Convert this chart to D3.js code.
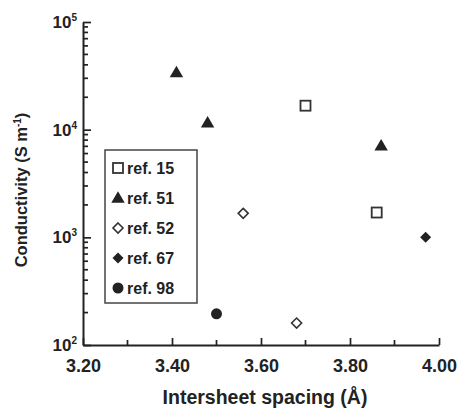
<!DOCTYPE html>
<html lang="en">
<head>
    <meta charset="UTF-8">
    <script src="https://cdn.jsdelivr.net/npm/d3@7"></script>
    <style>
        * { margin: 0; padding: 0; }
        body { background: #fff; font-family: "Liberation Sans", Arial, sans-serif; }
        svg { display: block; }
    </style>
</head>
<body>
<div id="chart"></div>
<script>
    // data
    var refs = ["ref. 15", "ref. 51", "ref. 52", "ref. 67", "ref. 98"];
    var symbolsOf = ["openSquare", "triangle", "openDiamond", "diamond", "circle"];
    var xs15 = [3.70, 3.86], ys15 = [16700, 1700];
    var xs51 = [3.41, 3.48, 3.87], ys51 = [34000, 11600, 7100];
    var xs52 = [3.56, 3.68], ys52 = [1670, 160];
    var xs67 = [3.97], ys67 = [1000];
    var xs98 = [3.50], ys98 = [195];
    var xTicks = [3.2, 3.4, 3.6, 3.8, 4.0];
    var yTicks = [1e2, 1e3, 1e4, 1e5];

    var w = 460, h = 408;
    var ink = "#222";

    var svg = d3.select("#chart").append("svg")
        .attr("width", w).attr("height", h);

    var xScale = d3.scaleLinear().domain([3.2, 4.0]).range([83, 439]);
    var yScale = d3.scaleLog().domain([1e2, 1e5]).range([345, 22]);

    // minor ticks
    var xMinor = d3.range(3.3, 4.0, 0.2);
    var yMinor = [];
    [1e2, 1e3, 1e4].forEach(function(d) {
        for (var k = 2; k <= 9; k++) yMinor.push(d * k);
    });

    // x axis
    var xAxis = d3.axisBottom(xScale).tickValues(xTicks)
        .tickFormat(d3.format(".2f")).tickSizeInner(-7).tickSizeOuter(0).tickPadding(14);
    var gx = svg.append("g").attr("transform", "translate(0,345)").call(xAxis);
    gx.attr("font-size", null).attr("font-family", null);
    gx.selectAll("text").attr("font-size", "18px").attr("font-weight", "bold").attr("fill", ink);
    gx.append("g").selectAll("line").data(xMinor).enter().append("line")
        .attr("x1", function(d) { return xScale(d); })
        .attr("x2", function(d) { return xScale(d); })
        .attr("y1", 0).attr("y2", -5);

    // y axis
    var yAxis = d3.axisLeft(yScale).tickValues(yTicks)
        .tickFormat("").tickSizeInner(-8).tickSizeOuter(0);
    var gy = svg.append("g").attr("transform", "translate(83,0)").call(yAxis);
    gy.append("g").selectAll("line").data(yMinor).enter().append("line")
        .attr("y1", function(d) { return yScale(d); })
        .attr("y2", function(d) { return yScale(d); })
        .attr("x1", 0).attr("x2", 5);

    svg.selectAll(".domain, .tick line").attr("stroke", ink).attr("stroke-width", 2);
    svg.selectAll("g g line").attr("stroke", ink).attr("stroke-width", 1.7);

    // y tick labels as 10 with exponent
    var ylab = svg.append("g").selectAll("text").data(yTicks).enter().append("text")
        .attr("x", 77)
        .attr("y", function(d) { return yScale(d) + 6; })
        .attr("text-anchor", "end")
        .attr("font-size", "17px").attr("font-weight", "bold").attr("fill", ink);
    ylab.append("tspan").text("10");
    ylab.append("tspan").attr("dy", -7).attr("font-size", "10px")
        .text(function(d) { return Math.round(Math.log10(d)); });

    // axis titles
    svg.append("text")
        .attr("x", 265).attr("y", 404)
        .attr("text-anchor", "middle")
        .attr("font-size", "19.5px").attr("font-weight", "bold").attr("fill", ink)
        .text("Intersheet spacing (Å)");

    var yt = svg.append("text")
        .attr("transform", "translate(27,190) rotate(-90)")
        .attr("text-anchor", "middle")
        .attr("font-size", "16.5px").attr("font-weight", "bold").attr("fill", ink);
    yt.append("tspan").text("Conductivity (S m");
    yt.append("tspan").attr("dy", -6).attr("font-size", "10px").text("-1");
    yt.append("tspan").attr("dy", 6).text(")");

    // marker drawing
    function drawSymbol(g, kind, x, y) {
        if (kind === "openSquare") {
            g.append("rect").attr("x", x - 5).attr("y", y - 5)
                .attr("width", 10).attr("height", 10)
                .attr("fill", "#fff").attr("stroke", "#333").attr("stroke-width", 1.8);
        } else if (kind === "triangle") {
            g.append("path").attr("d", d3.symbol(d3.symbolTriangle, 78)())
                .attr("transform", "translate(" + x + "," + (y + 1) + ")")
                .attr("fill", ink);
        } else if (kind === "openDiamond") {
            g.append("path").attr("d", "M0,-5L5,0L0,5L-5,0Z")
                .attr("transform", "translate(" + x + "," + y + ")")
                .attr("fill", "#fff").attr("stroke", "#333").attr("stroke-width", 1.6);
        } else if (kind === "diamond") {
            g.append("path").attr("d", "M0,-5.5L5.5,0L0,5.5L-5.5,0Z")
                .attr("transform", "translate(" + x + "," + y + ")")
                .attr("fill", ink);
        } else {
            g.append("circle").attr("cx", x).attr("cy", y).attr("r", 5.5).attr("fill", ink);
        }
    }

    var seriesX = [xs15, xs51, xs52, xs67, xs98];
    var seriesY = [ys15, ys51, ys52, ys67, ys98];
    var pts = svg.append("g");
    for (var s = 0; s < refs.length; s++) {
        for (var i = 0; i < seriesX[s].length; i++) {
            drawSymbol(pts, symbolsOf[s], xScale(seriesX[s][i]), yScale(seriesY[s][i]));
        }
    }

    // legend
    var leg = svg.append("g");
    leg.append("rect").attr("x", 105).attr("y", 150).attr("width", 92).attr("height", 153)
        .attr("fill", "#fff").attr("stroke", "#444").attr("stroke-width", 1.5);
    refs.forEach(function(r, i) {
        var cy = 168 + i * 30;
        drawSymbol(leg, symbolsOf[i], 118, cy);
        leg.append("text").attr("x", 127).attr("y", cy + 6)
            .attr("font-size", "16px").attr("font-weight", "bold").attr("fill", ink)
            .text(r);
    });
</script>
</body>
</html>
